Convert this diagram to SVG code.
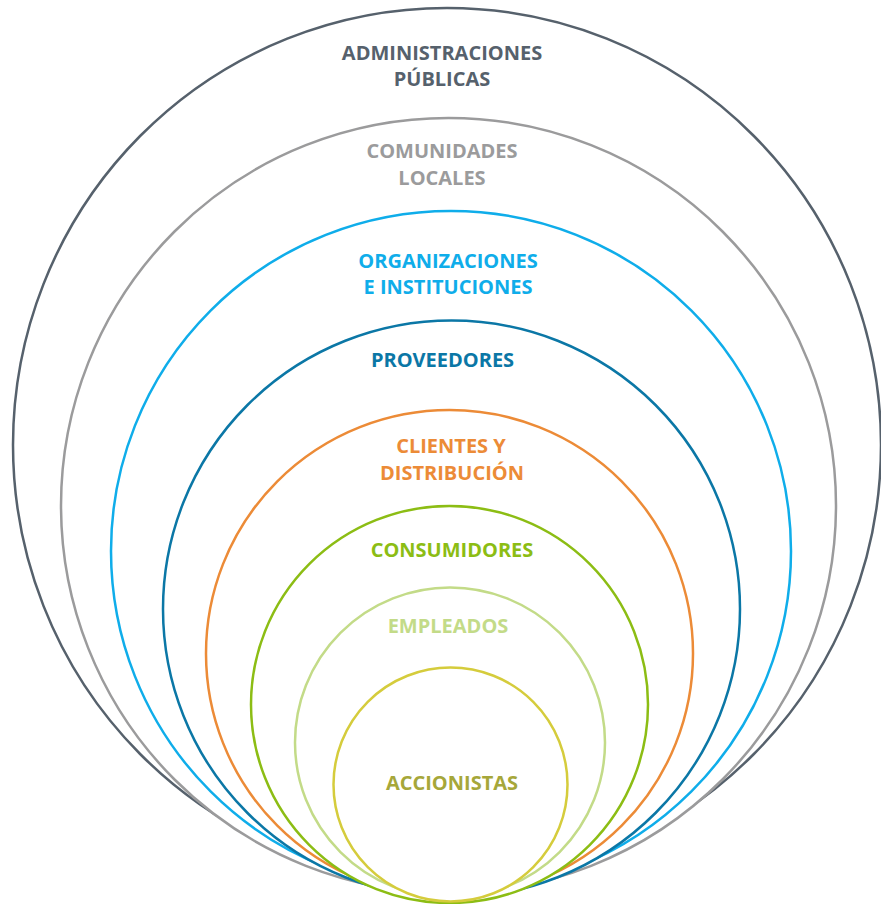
<svg xmlns="http://www.w3.org/2000/svg" width="881" height="904" viewBox="0 0 881 904">
<style>
.ring{fill:#fff;stroke-width:2.5}
.lbl{font-family:"Open Sans","Noto Sans","Liberation Sans",sans-serif;font-weight:700;font-size:20px;text-anchor:middle}
</style>
<rect width="881" height="904" fill="#fff"/>
<g id="admin">
<ellipse class="ring" cx="447" cy="445" rx="434" ry="437" stroke="#56616c"/>
<text class="lbl" fill="#56616c" x="442" y="60">ADMINISTRACIONES</text>
<text class="lbl" fill="#56616c" x="442" y="86">PÚBLICAS</text>
</g>
<g id="comunidades">
<circle class="ring" cx="448.5" cy="505.5" r="387.5" stroke="#9b9b9c"/>
<text class="lbl" fill="#9b9b9c" x="442" y="158">COMUNIDADES</text>
<text class="lbl" fill="#9b9b9c" x="442" y="185">LOCALES</text>
</g>
<g id="organizaciones">
<circle class="ring" cx="451" cy="551" r="340" stroke="#0fadea"/>
<text class="lbl" fill="#0fadea" x="448" y="268">ORGANIZACIONES</text>
<text class="lbl" fill="#0fadea" x="448" y="294">E INSTITUCIONES</text>
</g>
<g id="proveedores">
<circle class="ring" cx="451.5" cy="609" r="288.5" stroke="#0b77a6"/>
<text class="lbl" fill="#0b77a6" x="442.5" y="367">PROVEEDORES</text>
</g>
<g id="clientes">
<circle class="ring" cx="449.5" cy="653.5" r="243.5" stroke="#ec8b37"/>
<text class="lbl" fill="#ec8b37" x="451" y="453">CLIENTES Y</text>
<text class="lbl" fill="#ec8b37" x="452" y="480">DISTRIBUCIÓN</text>
</g>
<g id="consumidores">
<circle class="ring" cx="449.5" cy="704.5" r="198.5" stroke="#8cbd14"/>
<text class="lbl" fill="#8cbd14" x="452" y="557">CONSUMIDORES</text>
</g>
<g id="empleados">
<circle class="ring" cx="450" cy="742.5" r="155" stroke="#c3db88"/>
<text class="lbl" fill="#c3db88" x="448" y="633">EMPLEADOS</text>
</g>
<g id="accionistas">
<circle class="ring" cx="450.5" cy="784.5" r="117" stroke="#d5cc3c"/>
<text class="lbl" fill="#a6a73a" x="452" y="790">ACCIONISTAS</text>
</g>
<g id="connectors"/>
</svg>
